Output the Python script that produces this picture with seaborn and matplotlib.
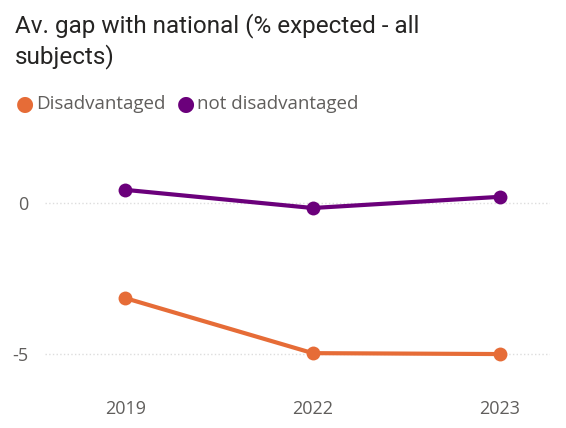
import numpy as np
import pandas as pd
import matplotlib.pyplot as plt
import seaborn as sns

years = ["2019", "2022", "2023"]
disadvantaged = [-3.15, -4.97, -5.0]
not_disadvantaged = [0.43, -0.17, 0.2]
group_names = ["Disadvantaged", "not disadvantaged"]
group_colors = ["#E66C37", "#6B007B"]

df = pd.DataFrame({
    "year": years * 2,
    "gap": disadvantaged + not_disadvantaged,
    "group": [group_names[0]] * 3 + [group_names[1]] * 3,
})
df["pos"] = df["year"].map({y: i for i, y in enumerate(years)})

sns.set_theme(style="white")
plt.rcParams['font.family'] = ['Open Sans', 'DejaVu Sans']

fig = plt.figure(figsize=(5.66, 4.28), dpi=100)
ax = fig.add_axes([0.08, 0.10, 0.892, 0.585])

sns.lineplot(data=df, x="pos", y="gap", hue="group", palette=group_colors,
             hue_order=group_names, marker="o", markersize=10, markeredgewidth=0,
             linewidth=3, legend=False, ax=ax)

ax.set_xlim(-0.427, 2.267)
ax.set_ylim(-6.03, 2.25)
ax.set_xticks(range(len(years)))
ax.set_xticklabels(years)
ax.set_yticks([0, -5])
ax.set_yticklabels(["0", "-5"])
ax.set_xlabel("")
ax.set_ylabel("")
for s in ax.spines.values():
    s.set_visible(False)
ax.tick_params(axis="both", length=0, labelsize=13, colors="#605E5C")
ax.tick_params(axis="x", pad=11)
ax.tick_params(axis="y", pad=12)
ax.yaxis.grid(True, linestyle=":", color="#DDDDDD", linewidth=1)
ax.xaxis.grid(False)

fig.text(15 / 566, 1 - 13 / 428, "Av. gap with national (% expected - all\nsubjects)",
         fontsize=17.5, color="#252423", va="top", ha="left", linespacing=1.3,
         family=['Roboto', 'DejaVu Sans'])

# legend
y0 = 1 - 104 / 428
fig.text(25 / 566, y0, "\u25CF", color=group_colors[0], fontsize=15, ha="center", va="center",
         family=['DejaVu Sans'])
fig.text(36 / 566, y0, group_names[0], color="#605E5C", fontsize=13.5, ha="left", va="center")
fig.text(186 / 566, y0, "\u25CF", color=group_colors[1], fontsize=15, ha="center", va="center",
         family=['DejaVu Sans'])
fig.text(197 / 566, y0, group_names[1], color="#605E5C", fontsize=13.5, ha="left", va="center")

fig.savefig("out.png", dpi=100)
